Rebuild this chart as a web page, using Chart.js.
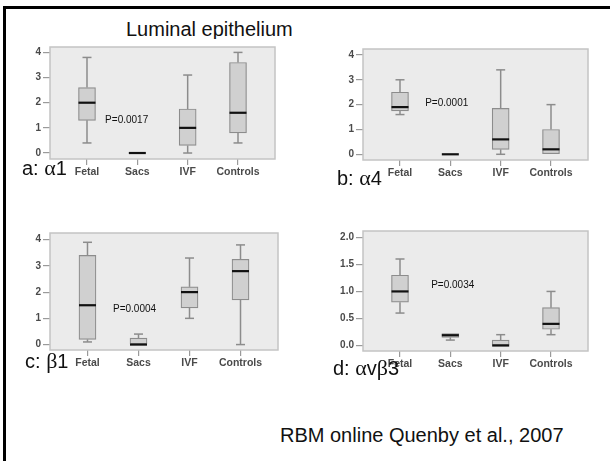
<!DOCTYPE html>
<html>
<head>
<meta charset="utf-8">
<script src="https://cdn.jsdelivr.net/npm/chart.js@4/dist/chart.umd.min.js"></script>
<style>
  html, body { margin: 0; padding: 0; background: #fff; }
  body { width: 610px; height: 461px; position: relative; overflow: hidden; font-family: "Liberation Sans", Arial, sans-serif; }
  .frame { position: absolute; left: 3px; top: 6px; width: 700px; height: 600px; border-top: 3px solid #000; border-left: 3px solid #000; }
  canvas.panel { position: absolute; }
  .txt { position: absolute; font-size: 20px; line-height: 20px; color: #111; white-space: nowrap; }
  .greek { font-family: "Liberation Serif", "DejaVu Serif", serif; font-size: 22px; }
  .title { overflow: hidden; height: 20px; }
</style>
</head>
<body>
<div class="frame"></div>
<div class="txt title" style="left:126px; top:19px;">Luminal epithelium</div>

<canvas class="panel" id="pa"></canvas>
<canvas class="panel" id="pb"></canvas>
<canvas class="panel" id="pc"></canvas>
<canvas class="panel" id="pd"></canvas>

<div class="txt" style="left:22px; top:158px;">a: <span class="greek">α</span>1</div>
<div class="txt" style="left:337px; top:168px;">b: <span class="greek">α</span>4</div>
<div class="txt" style="left:25px; top:351px;">c: <span class="greek">β</span>1</div>
<div class="txt" style="left:333px; top:358px;">d: <span class="greek">α</span>v<span class="greek">β</span>3</div>
<div class="txt" style="left:280px; top:425px;">RBM online Quenby et al., 2007</div>

<script>
// Groups shown on every panel
const groups = ["Fetal", "Sacs", "IVF", "Controls"];

// Five-number summaries per group: [min, q1, median, q3, max]
const alpha1 = [
  [0.4, 1.3, 2.0, 2.6, 3.8],
  [0.0, 0.0, 0.0, 0.0, 0.0],
  [0.0, 0.3, 1.0, 1.75, 3.1],
  [0.4, 0.8, 1.6, 3.6, 4.0]
];
const alpha4 = [
  [1.6, 1.75, 1.9, 2.5, 3.0],
  [0.0, 0.0, 0.0, 0.0, 0.0],
  [0.0, 0.2, 0.6, 1.85, 3.4],
  [0.0, 0.0, 0.2, 1.0, 2.0]
];
const beta1 = [
  [0.1, 0.2, 1.5, 3.4, 3.9],
  [0.0, 0.0, 0.0, 0.25, 0.4],
  [1.0, 1.4, 2.0, 2.2, 3.3],
  [0.0, 1.7, 2.8, 3.25, 3.8]
];
const avb3 = [
  [0.6, 0.8, 1.0, 1.3, 1.6],
  [0.1, 0.15, 0.19, 0.22, 0.22],
  [0.0, 0.0, 0.0, 0.1, 0.2],
  [0.2, 0.3, 0.4, 0.7, 1.0]
];

// Kruskal-Wallis p-values printed on each panel
const pValues = ["P=0.0017", "P=0.0001", "P=0.0004", "P=0.0034"];

// Y axis tick values
const ticks4 = [0, 1, 2, 3, 4];
const ticks2 = [0.0, 0.5, 1.0, 1.5, 2.0];

// Panel layout: plot area rectangle in page pixels and axis ranges
const panels = [
  { id: "pa", data: alpha1, p: pValues[0], ticks: ticks4, dec: 0, rect: [50, 41, 275, 159], ymin: -0.238, ymax: 4.215, px: 0.36, py: 1.31 },
  { id: "pb", data: alpha4, p: pValues[1], ticks: ticks4, dec: 0, rect: [363, 43, 588, 160], ymin: -0.23, ymax: 4.24, px: 0.50, py: 2.04 },
  { id: "pc", data: beta1, p: pValues[2], ticks: ticks4, dec: 0, rect: [50, 227, 278, 350], ymin: -0.207, ymax: 4.254, px: 0.50, py: 1.36 },
  { id: "pd", data: avb3, p: pValues[3], ticks: ticks2, dec: 1, rect: [363, 225, 588, 351], ymin: -0.102, ymax: 2.118, px: 0.62, py: 1.12 }
];

const AX_W = 34, AX_H = 26, PAD_T = 2, PAD_R = 4;

// Grey plot panel behind the boxes
const panelBg = {
  id: "panelBg",
  beforeDatasetsDraw(chart) {
    const a = chart.chartArea, ctx = chart.ctx;
    ctx.save();
    ctx.fillStyle = "#ebebeb";
    ctx.fillRect(a.left, a.top, a.right - a.left, a.bottom - a.top);
    ctx.strokeStyle = "#c4c4c4";
    ctx.lineWidth = 1.5;
    ctx.strokeRect(a.left, a.top, a.right - a.left, a.bottom - a.top);
    ctx.restore();
  }
};

// Whiskers, caps and medians drawn from the five-number summaries
const boxParts = {
  id: "boxParts",
  beforeDatasetsDraw(chart) {
    const cfg = chart.options.plugins.boxParts;
    const xs = chart.scales.x, ys = chart.scales.y, ctx = chart.ctx;
    ctx.save();
    ctx.strokeStyle = "#8c8c8c";
    ctx.lineWidth = 1.5;
    cfg.stats.forEach((s, i) => {
      const x = xs.getPixelForValue(i);
      const [mn, q1, , q3, mx] = s;
      const pairs = [[q3, mx], [q1, mn]];
      pairs.forEach(([from, to]) => {
        if (to === from) return;
        const y0 = ys.getPixelForValue(from), y1 = ys.getPixelForValue(to);
        ctx.beginPath(); ctx.moveTo(x, y0); ctx.lineTo(x, y1); ctx.stroke();
        ctx.beginPath(); ctx.moveTo(x - 4.5, y1); ctx.lineTo(x + 4.5, y1); ctx.stroke();
      });
    });
    ctx.restore();
  },
  afterDatasetsDraw(chart) {
    const cfg = chart.options.plugins.boxParts;
    const xs = chart.scales.x, ys = chart.scales.y, ctx = chart.ctx;
    const half = cfg.width / 2;
    ctx.save();
    ctx.strokeStyle = "#111";
    ctx.lineWidth = 2.2;
    cfg.stats.forEach((s, i) => {
      const x = xs.getPixelForValue(i);
      const y = ys.getPixelForValue(s[2]);
      ctx.beginPath(); ctx.moveTo(x - half, y); ctx.lineTo(x + half, y); ctx.stroke();
    });
    // p-value note
    ctx.fillStyle = "#111";
    ctx.font = "10px 'Liberation Sans', Arial, sans-serif";
    ctx.textAlign = "left";
    ctx.textBaseline = "middle";
    ctx.fillText(cfg.note, xs.getPixelForValue(cfg.nx), ys.getPixelForValue(cfg.ny));
    ctx.restore();
  }
};

panels.forEach(pn => {
  const [L, T, R, B] = pn.rect;
  const cv = document.getElementById(pn.id);
  const w = R - L + AX_W + PAD_R, h = B - T + AX_H + PAD_T;
  cv.style.left = (L - AX_W) + "px";
  cv.style.top = (T - PAD_T) + "px";
  cv.style.width = w + "px";
  cv.style.height = h + "px";
  cv.width = w; cv.height = h;

  const boxW = 17;
  new Chart(cv, {
    type: "bar",
    data: {
      datasets: [{
        data: pn.data.map((s, i) => ({ x: i, y: [s[1], s[3]] })),
        backgroundColor: "#d0d0d0",
        borderColor: "#8c8c8c",
        borderWidth: 1.2,
        borderSkipped: false,
        barThickness: boxW
      }]
    },
    options: {
      responsive: false,
      animation: false,
      events: [],
      layout: { padding: { top: PAD_T, right: PAD_R, left: 0, bottom: 0 } },
      plugins: {
        legend: { display: false },
        tooltip: { enabled: false },
        boxParts: { stats: pn.data, width: boxW, note: pn.p, nx: pn.px, ny: pn.py }
      },
      scales: {
        x: {
          type: "linear",
          offset: false,
          min: -0.735, max: 3.735,
          afterFit(s) { s.height = AX_H; },
          afterBuildTicks(s) { s.ticks = groups.map((_, i) => ({ value: i })); },
          grid: { display: true, offset: false, drawOnChartArea: false, tickLength: 6, color: "#9a9a9a", lineWidth: 1.2 },
          border: { display: false },
          ticks: {
            autoSkip: false, maxRotation: 0, padding: 1,
            color: "#4a4a4a",
            font: { family: "'Liberation Sans', Arial, sans-serif", size: 10.5, weight: "bold" },
            callback: v => groups[v]
          }
        },
        y: {
          min: pn.ymin, max: pn.ymax,
          afterFit(s) { s.width = AX_W; },
          afterBuildTicks(s) { s.ticks = pn.ticks.map(v => ({ value: v })); },
          grid: { display: true, drawOnChartArea: false, tickLength: 7, color: "#9a9a9a", lineWidth: 1.2 },
          border: { display: false },
          ticks: {
            padding: 2,
            color: "#4a4a4a",
            font: { family: "'Liberation Sans', Arial, sans-serif", size: 10, weight: "bold" },
            callback: v => v.toFixed(pn.dec)
          }
        }
      }
    },
    plugins: [panelBg, boxParts]
  });
});
</script>
</body>
</html>
